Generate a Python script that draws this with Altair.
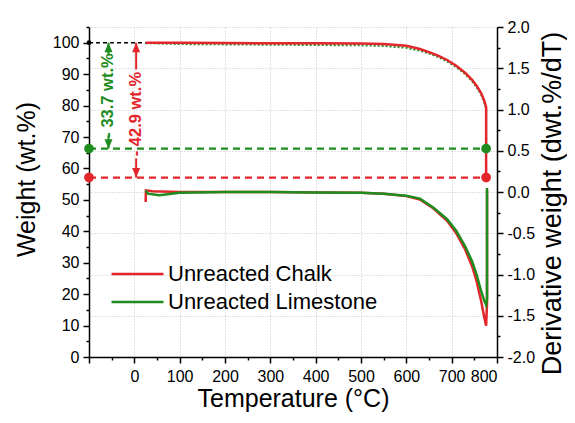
import altair as alt
import pandas as pd

# ---------------- data ----------------
SERIES = ["Unreacted Chalk", "Unreacted Limestone"]

# TGA (weight, left axis)
tga_T_chalk = [25, 100, 200, 300, 400, 500, 550, 600, 630, 650, 670, 690, 710, 730, 745, 755, 765, 772, 776, 776]
tga_W_chalk = [100, 99.95, 99.9, 99.85, 99.8, 99.75, 99.6, 99.0, 98.0, 97.0, 95.9, 94.5, 92.7, 90.4, 88.2, 86.3, 84.0, 81.5, 79.5, 57.1]
tga_T_lime = [25, 100, 200, 300, 400, 500, 550, 600, 630, 650, 670, 690, 710, 730, 745, 755, 765, 772, 776, 776]
tga_W_lime = [99.9, 99.6, 99.5, 99.4, 99.3, 99.2, 99.0, 98.4, 97.5, 96.6, 95.5, 94.1, 92.3, 90.0, 87.8, 85.9, 83.6, 81.1, 79.2, 66.3]

# DTG (derivative weight, right axis)
dtg_T_chalk = [25, 25.5, 40, 100, 200, 300, 400, 500, 550, 600, 630, 660, 690, 710, 730, 745, 755, 765, 772, 776, 778, 778]
dtg_D_chalk = [-0.12, 0.02, 0.01, 0.0, 0.0, 0.0, -0.005, -0.01, -0.02, -0.05, -0.09, -0.2, -0.35, -0.5, -0.7, -0.9, -1.08, -1.32, -1.52, -1.62, -1.35, 0.02]
dtg_T_lime = [25, 30, 55, 100, 200, 300, 400, 500, 550, 600, 630, 660, 690, 710, 730, 745, 755, 765, 772, 776, 778, 778]
dtg_D_lime = [0.02, -0.02, -0.04, -0.01, 0.0, 0.0, -0.005, -0.01, -0.02, -0.045, -0.08, -0.19, -0.33, -0.47, -0.66, -0.84, -1.0, -1.2, -1.32, -1.37, -1.3, 0.05]

# residual mass levels and losses
residual_levels = [57.1, 66.3]          # chalk, limestone
residual_T_start = -100
residual_T_end = 776
loss_labels = ["- 42.9 wt.%", "- 33.7 wt.%"]
loss_T = [4, -57]
loss_text_y = [77.3, 83.2]
loss_seg_top = [91.5, 96.0]            # lower end of top segment
loss_seg_bottom = [63.2, 70.5]         # upper end of bottom segment

x_major = list(range(-100, 801, 100))
x_minor = list(range(-50, 801, 100))
yl_major = list(range(0, 101, 10))
yl_minor = list(range(5, 106, 10))
yr_major = [-2.0, -1.5, -1.0, -0.5, 0.0, 0.5, 1.0, 1.5, 2.0]
yr_minor = [-1.75, -1.25, -0.75, -0.25, 0.25, 0.75, 1.25, 1.75]

# ---------------- style ----------------
RED = "#E3262B"
GREEN = "#1E8C1E"
FONT = "Liberation Sans"

xs = alt.Scale(domain=[-100, 800], nice=False, zero=False)
yls = alt.Scale(domain=[0, 105], nice=False, zero=False)
yrs = alt.Scale(domain=[-2, 2], nice=False, zero=False)
cs = alt.Scale(domain=SERIES, range=[RED, GREEN])

common_axis = dict(domainColor="black", tickColor="black", domainWidth=1.5, tickWidth=1.5,
                   labelFont=FONT, labelColor="black", titleFont=FONT, titleColor="black",
                   titleFontWeight="normal")

x_axis_major = alt.Axis(values=x_major, orient="bottom", labelExpr="datum.value < 0 ? '' : datum.label",
                        tickSize=6, labelFontSize=16, labelPadding=5,
                        grid=True, gridDash=[1, 2], gridColor="#c4c4c4", gridWidth=1,
                        title="Temperature (°C)", titleFontSize=25,
                        titleBaseline="alphabetic", titleY=49, **common_axis)
x_axis_minor = alt.Axis(values=x_minor, orient="bottom", tickSize=3, labels=False, domain=False,
                        grid=False, title=None, tickColor="black", tickWidth=1.5)

yl_axis_major = alt.Axis(values=yl_major, orient="left", tickSize=6, labelFontSize=16, labelPadding=4,
                         grid=False, title="Weight (wt.%)", titleFontSize=25,
                         titleAngle=270, titleBaseline="middle", titleX=-63, titleY=152, **common_axis)
yl_axis_minor = alt.Axis(values=yl_minor, orient="left", tickSize=3, labels=False, domain=False,
                         grid=False, title=None, tickColor="black", tickWidth=1.5)

yr_axis_major = alt.Axis(values=yr_major, orient="right", format=".1f",
                         labelExpr="replace(datum.label, '\u2212', '-')",
                         tickSize=6, labelFontSize=16,
                         labelPadding=4, grid=True, gridDash=[1, 2], gridColor="#c4c4c4", gridWidth=1,
                         title="Derivative weight (dwt.%/dT)", titleFontSize=27,
                         titleAngle=270, titleBaseline="middle", titleX=55, titleY=176, **common_axis)
yr_axis_minor = alt.Axis(values=yr_minor, orient="right", tickSize=3, labels=False, domain=False,
                         grid=False, title=None, tickColor="black", tickWidth=1.5)

legend = alt.Legend(title=None, orient="none", legendX=21, legendY=236, symbolType="stroke",
                    symbolSize=2700, symbolStrokeWidth=2.5, labelFontSize=22, labelFont=FONT,
                    labelColor="black", labelLimit=400, clipHeight=22, rowPadding=6,
                    padding=0, labelOffset=3)

color = alt.Color("series:N", scale=cs, legend=legend)

# ---------------- frames ----------------
def curve(T, V, name):
    return pd.DataFrame({"T": T, "V": V, "series": name, "i": list(range(len(T)))})

tga_chalk = curve(tga_T_chalk, tga_W_chalk, SERIES[0])
tga_lime = curve(tga_T_lime, tga_W_lime, SERIES[1])
dtg_chalk = curve(dtg_T_chalk, dtg_D_chalk, SERIES[0])
dtg_lime = curve(dtg_T_lime, dtg_D_lime, SERIES[1])

levels = pd.DataFrame({"y": residual_levels, "x1": residual_T_start, "x2": residual_T_end,
                       "series": SERIES})
dots = pd.DataFrame({"x": [residual_T_start, residual_T_end] * 2,
                     "y": [residual_levels[0]] * 2 + [residual_levels[1]] * 2,
                     "series": [SERIES[0]] * 2 + [SERIES[1]] * 2})
top_line = pd.DataFrame({"x1": [residual_T_start], "x2": [tga_T_chalk[0]], "y": [100]})
top_dot = pd.DataFrame({"x": [residual_T_start], "y": [100]})

segs = pd.DataFrame({
    "x": loss_T * 2,
    "y1": [100, 100] + loss_seg_bottom,
    "y2": loss_seg_top + residual_levels,
    "series": SERIES * 2,
})
heads_up = pd.DataFrame({"x": loss_T, "y": [100, 100], "series": SERIES})
heads_dn = pd.DataFrame({"x": loss_T, "y": residual_levels, "series": SERIES})
labels = pd.DataFrame({"x": loss_T, "y": loss_text_y, "t": loss_labels, "series": SERIES})

# ---------------- left (weight) layers ----------------
l_lime = alt.Chart(tga_lime).mark_line(strokeWidth=2.2, strokeDash=[2, 2], color=GREEN).encode(
    x=alt.X("T:Q", scale=xs, axis=x_axis_minor),
    y=alt.Y("V:Q", scale=yls, axis=yl_axis_minor),
    order="i:Q")
l_chalk = alt.Chart(tga_chalk).mark_line(strokeWidth=2.5, color=RED).encode(
    x=alt.X("T:Q", scale=xs, axis=x_axis_major),
    y=alt.Y("V:Q", scale=yls, axis=yl_axis_major),
    order="i:Q")
l_top = alt.Chart(top_line).mark_rule(strokeWidth=1.5, strokeDash=[4, 3], color="black").encode(
    x=alt.X("x1:Q", scale=xs, axis=None), x2="x2:Q", y=alt.Y("y:Q", scale=yls, axis=None))
l_topdot = alt.Chart(top_dot).mark_circle(size=22, color="black", opacity=1).encode(
    x=alt.X("x:Q", scale=xs, axis=None), y=alt.Y("y:Q", scale=yls, axis=None))
l_levels = alt.Chart(levels).mark_rule(strokeWidth=2.2, strokeDash=[7, 5]).encode(
    x=alt.X("x1:Q", scale=xs, axis=None), x2="x2:Q", y=alt.Y("y:Q", scale=yls, axis=None),
    color=color)
l_dots = alt.Chart(dots).mark_circle(size=95, opacity=1).encode(
    x=alt.X("x:Q", scale=xs, axis=None), y=alt.Y("y:Q", scale=yls, axis=None),
    color=color)
l_segs = alt.Chart(segs).mark_rule(strokeWidth=2).encode(
    x=alt.X("x:Q", scale=xs, axis=None), y=alt.Y("y1:Q", scale=yls, axis=None), y2="y2:Q",
    color=color)
l_up = alt.Chart(heads_up).mark_point(shape="M0,0L-0.8,1.9L0.8,1.9Z", size=100, filled=True, opacity=1).encode(
    x=alt.X("x:Q", scale=xs, axis=None), y=alt.Y("y:Q", scale=yls, axis=None),
    color=color)
l_dn = alt.Chart(heads_dn).mark_point(shape="M0,0L-0.8,-1.9L0.8,-1.9Z", size=100, filled=True, opacity=1).encode(
    x=alt.X("x:Q", scale=xs, axis=None), y=alt.Y("y:Q", scale=yls, axis=None),
    color=color)
l_text = alt.Chart(labels).mark_text(angle=270, font=FONT, fontSize=16.5, fontWeight="bold",
                                     align="center", baseline="middle").encode(
    x=alt.X("x:Q", scale=xs, axis=None), y=alt.Y("y:Q", scale=yls, axis=None), text="t:N",
    color=color)

left = alt.layer(l_lime, l_chalk, l_top, l_topdot, l_levels, l_dots, l_segs, l_up, l_dn, l_text
                 ).resolve_axis(x="independent", y="independent")

# ---------------- right (derivative) layers ----------------
r_chalk = alt.Chart(dtg_chalk).mark_line(strokeWidth=2.5).encode(
    x=alt.X("T:Q", scale=xs, axis=None),
    y=alt.Y("V:Q", scale=yrs, axis=yr_axis_major),
    color=color,
    order="i:Q")
r_lime = alt.Chart(dtg_lime).mark_line(strokeWidth=2.5).encode(
    x=alt.X("T:Q", scale=xs, axis=None),
    y=alt.Y("V:Q", scale=yrs, axis=yr_axis_minor),
    color=color,
    order="i:Q")

right = alt.layer(r_chalk, r_lime).resolve_axis(y="independent")

chart = alt.layer(left, right).resolve_scale(y="independent").properties(
    width=408, height=330,
    autosize=alt.AutoSizeParams(type="none"),
    padding={"left": 81, "top": 19, "right": 70, "bottom": 58},
    background="white",
).configure_view(stroke=None)

chart.save("out.html", embed_options={"renderer": "svg", "actions": False})
